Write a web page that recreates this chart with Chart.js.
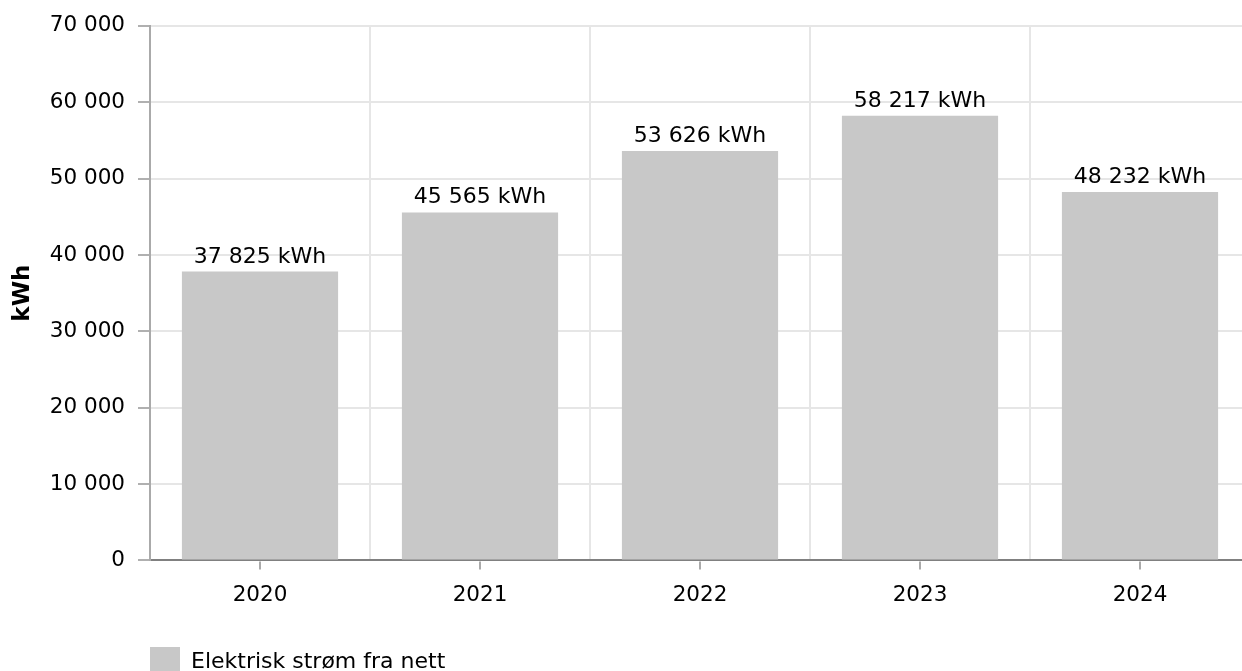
<!DOCTYPE html>
<html>
<head>
<meta charset="utf-8">
<script src="https://cdn.jsdelivr.net/npm/chart.js@4"></script>
<style>
  html, body { margin: 0; padding: 0; background: #fff; overflow: hidden; }
  #wrap { width: 1250px; height: 687px; position: relative; }
</style>
</head>
<body>
<div id="wrap"><canvas id="c"></canvas></div>
<script>
const categories = ['2020', '2021', '2022', '2023', '2024'];
const values = [37825, 45565, 53626, 58217, 48232];
const seriesName = 'Elektrisk strøm fra nett';
const yTitle = 'kWh';
const unit = 'kWh';
const yMin = 0, yMax = 70000, yStep = 10000;

function fmt(n) {
  return String(Math.round(n)).replace(/\B(?=(\d{3})+(?!\d))/g, ' ');
}

Chart.defaults.font.family = "'DejaVu Sans', Verdana, sans-serif";
Chart.defaults.color = '#000';

const valueLabels = {
  id: 'valueLabels',
  afterDatasetsDraw(chart) {
    const ctx = chart.ctx;
    const meta = chart.getDatasetMeta(0);
    ctx.save();
    ctx.font = "22px 'DejaVu Sans', Verdana, sans-serif";
    ctx.fillStyle = '#000';
    ctx.textAlign = 'center';
    ctx.textBaseline = 'alphabetic';
    meta.data.forEach((bar, i) => {
      ctx.fillText(fmt(values[i]) + ' ' + unit, bar.x, bar.y - 9);
    });
    ctx.restore();
  }
};

const centerTicks = {
  id: 'centerTicks',
  afterDraw(chart) {
    const x = chart.scales.x;
    const ctx = chart.ctx;
    ctx.save();
    ctx.strokeStyle = '#aaaaaa';
    ctx.lineWidth = 2;
    x.ticks.forEach((t, i) => {
      const px = x.getPixelForTick(i);
      ctx.beginPath();
      ctx.moveTo(px, x.top + 1);
      ctx.lineTo(px, x.top + 9);
      ctx.stroke();
    });
    ctx.restore();
  }
};

new Chart(document.getElementById('c'), {
  type: 'bar',
  data: {
    labels: categories,
    datasets: [{
      label: seriesName,
      data: values,
      backgroundColor: '#c8c8c8',
      borderWidth: 0,
      categoryPercentage: 1,
      barPercentage: 0.71
    }]
  },
  plugins: [valueLabels, centerTicks],
  options: {
    responsive: true,
    maintainAspectRatio: false,
    animation: false,
    layout: { padding: { top: 23, right: 0, bottom: 0, left: 0 } },
    plugins: {
      tooltip: { enabled: false },
      legend: {
        display: true,
        position: 'bottom',
        align: 'start',
        fullSize: false,
        labels: {
          boxWidth: 30,
          boxHeight: 30,
          padding: 0,
          color: '#000',
          font: { size: 22 }
        }
      }
    },
    scales: {
      x: {
        offset: true,
        grid: {
          offset: true,
          drawTicks: false,
          color: '#e6e6e6',
          lineWidth: 2
        },
        border: { display: true, color: '#808080', width: 2 },
        ticks: { padding: 22, font: { size: 21.5 }, color: '#000' },
        title: { display: true, text: '', font: { size: 14 }, padding: { top: 0, bottom: 0 } }
      },
      y: {
        min: yMin,
        max: yMax,
        ticks: {
          stepSize: yStep,
          padding: 13,
          font: { size: 21.5 },
          color: '#000',
          callback: (v) => fmt(v)
        },
        grid: {
          color: '#e6e6e6',
          lineWidth: 2,
          tickLength: 12,
          tickColor: '#b0b0b0',
          tickWidth: 2
        },
        border: { display: true, color: '#aaaaaa', width: 2 },
        title: {
          display: true,
          text: yTitle,
          font: { size: 23, weight: 'bold' },
          color: '#000',
          padding: { top: 9, bottom: 0 }
        },
        afterFit: (scale) => { scale.width = 150; }
      }
    }
  }
});
</script>
</body>
</html>
